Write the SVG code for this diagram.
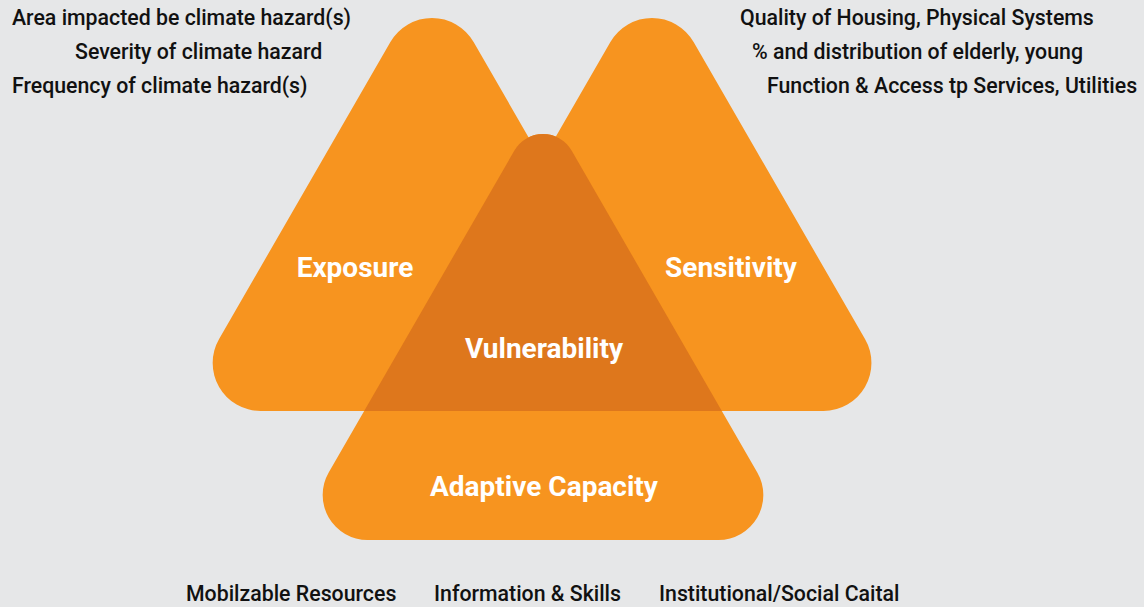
<svg xmlns="http://www.w3.org/2000/svg" width="1144" height="607" viewBox="0 0 1144 607">
<style>
.tri{fill:#f7941f;}
.dark{fill:#de771c;}
.lbl{font-family:Roboto,"Liberation Sans",sans-serif;font-weight:700;font-size:28px;fill:#ffffff;text-anchor:middle;}
.note{font-family:Roboto,"Liberation Sans",sans-serif;font-weight:500;font-size:21.3px;fill:#111111;}
</style>
<defs>
<clipPath id="topclip"><rect x="0" y="0" width="1144" height="411"/></clipPath>
<path id="bottomShape" d="M514.4,150.5 A33,33 0 0 1 571.6,150.5 L757.3,472.5 A45,45 0 0 1 718.4,540 L367.6,540 A45,45 0 0 1 328.7,472.5 Z"/>
</defs>
<rect x="0" y="0" width="1144" height="607" fill="#e6e7e8"/>
<g id="exposure">
<path class="tri" d="M390.4,42 A48,48 0 0 1 473.6,42 L644.9,339 A48,48 0 0 1 603.4,411 L260.6,411 A48,48 0 0 1 219.1,339 Z"/>
<text class="lbl" x="355" y="277">Exposure</text>
</g>
<g id="sensitivity">
<path class="tri" d="M610.4,42 A48,48 0 0 1 693.6,42 L865,339 A48,48 0 0 1 823.4,411 L480.6,411 A48,48 0 0 1 439.1,339 Z"/>
<text class="lbl" x="731" y="277">Sensitivity</text>
</g>
<g id="adaptive">
<use href="#bottomShape" class="tri"/>
<text class="lbl" x="544" y="496">Adaptive Capacity</text>
</g>
<g id="vulnerability">
<use href="#bottomShape" class="dark" clip-path="url(#topclip)"/>
<text class="lbl" x="544" y="358">Vulnerability</text>
</g>
<g id="exposure-notes">
<text class="note" x="12" y="25">Area impacted be climate hazard(s)</text>
<text class="note" x="75" y="59">Severity of climate hazard</text>
<text class="note" x="12" y="93">Frequency of climate hazard(s)</text>
</g>
<g id="sensitivity-notes">
<text class="note" x="740" y="25">Quality of Housing, Physical Systems</text>
<text class="note" x="752" y="59">% and distribution of elderly, young</text>
<text class="note" x="767" y="93">Function &amp; Access tp Services, Utilities</text>
</g>
<g id="adaptive-notes">
<text class="note" x="186" y="601">Mobilzable Resources</text>
<text class="note" x="434" y="601">Information &amp; Skills</text>
<text class="note" x="659" y="601">Institutional/Social Caital</text>
</g>
<g id="connectors"/>
</svg>
